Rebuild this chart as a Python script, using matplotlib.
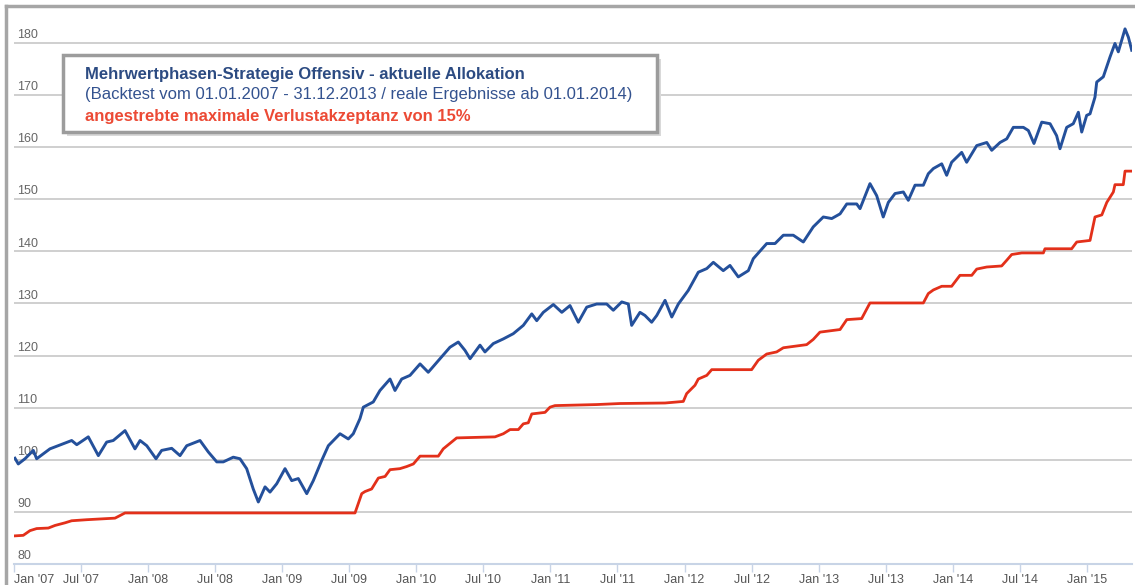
import matplotlib
matplotlib.use("Agg")
import matplotlib.pyplot as plt
from matplotlib.patches import Rectangle
from matplotlib.lines import Line2D

plt.rcParams['font.family'] = ['Liberation Sans', 'DejaVu Sans']

# Strategie (blau), Zeit in Dezimaljahren
blue_t = [2007.007, 2007.032, 2007.082, 2007.144, 2007.169, 2007.268, 2007.368, 2007.430,
          2007.468, 2007.554, 2007.629, 2007.691, 2007.740, 2007.828, 2007.902, 2007.940,
          2007.990, 2008.059, 2008.101, 2008.176, 2008.238, 2008.288, 2008.387, 2008.449,
          2008.512, 2008.561, 2008.635, 2008.685, 2008.735, 2008.784, 2008.822, 2008.872,
          2008.909, 2008.959, 2009.021, 2009.071, 2009.120, 2009.183, 2009.232, 2009.295,
          2009.344, 2009.431, 2009.493, 2009.530, 2009.580, 2009.605, 2009.679, 2009.729,
          2009.804, 2009.841, 2009.891, 2009.953, 2010.028, 2010.089, 2010.177, 2010.251,
          2010.313, 2010.363, 2010.401, 2010.475, 2010.512, 2010.574, 2010.649, 2010.723,
          2010.798, 2010.861, 2010.898, 2010.947, 2011.022, 2011.085, 2011.146, 2011.208,
          2011.271, 2011.345, 2011.420, 2011.469, 2011.532, 2011.581, 2011.606, 2011.668,
          2011.705, 2011.755, 2011.793, 2011.855, 2011.905, 2011.954, 2012.028, 2012.103,
          2012.166, 2012.215, 2012.289, 2012.339, 2012.401, 2012.476, 2012.513, 2012.613,
          2012.675, 2012.737, 2012.811, 2012.886, 2012.960, 2013.035, 2013.098, 2013.160,
          2013.210, 2013.284, 2013.309, 2013.383, 2013.433, 2013.482, 2013.520, 2013.570,
          2013.632, 2013.669, 2013.719, 2013.781, 2013.818, 2013.856, 2013.918, 2013.955,
          2013.992, 2014.067, 2014.104, 2014.179, 2014.254, 2014.291, 2014.353, 2014.403,
          2014.452, 2014.527, 2014.564, 2014.606, 2014.664, 2014.726, 2014.775, 2014.800,
          2014.850, 2014.899, 2014.937, 2014.962, 2014.999, 2015.024, 2015.061, 2015.074,
          2015.123, 2015.173, 2015.210, 2015.235, 2015.285, 2015.310, 2015.335]
blue_v = [100.3, 99.2, 100.2, 101.8, 100.2, 102.1, 103.1, 103.7,
          102.9, 104.4, 100.8, 103.4, 103.7, 105.6, 102.1, 103.7,
          102.7, 100.2, 101.8, 102.2, 100.8, 102.7, 103.7, 101.5,
          99.6, 99.6, 100.5, 100.2, 98.3, 94.4, 91.9, 94.8,
          93.8, 95.4, 98.3, 96.0, 96.4, 93.5, 96.0, 99.9,
          102.7, 105.0, 104.0, 105.0, 107.9, 110.1, 111.1, 113.3,
          115.5, 113.3, 115.5, 116.2, 118.4, 116.8, 119.4, 121.6,
          122.6, 121.0, 119.4, 122.0, 120.7, 122.3, 123.2, 124.2,
          125.8, 128.0, 126.7, 128.3, 129.8, 128.3, 129.6, 126.4,
          129.3, 129.9, 129.9, 128.7, 130.3, 129.9, 125.8, 128.3,
          127.7, 126.4, 127.7, 130.6, 127.4, 129.9, 132.5, 136.0,
          136.7, 137.9, 136.3, 137.3, 135.1, 136.3, 138.6, 141.5,
          141.5, 143.1, 143.1, 141.8, 144.7, 146.6, 146.3, 147.2,
          149.1, 149.1, 148.2, 153.0, 150.7, 146.6, 149.4, 151.1,
          151.4, 149.8, 152.7, 152.7, 154.9, 155.9, 156.8, 154.6,
          157.1, 159.0, 157.1, 160.3, 160.9, 159.4, 160.9, 161.6,
          163.8, 163.8, 163.2, 160.7, 164.8, 164.5, 162.2, 159.7,
          163.8, 164.5, 166.7, 162.9, 166.1, 166.4, 169.6, 172.5,
          173.5, 177.3, 179.9, 178.3, 182.7, 181.1, 178.6]

# Verlustschwelle (rot)
red_t = [2007.007, 2007.069, 2007.119, 2007.169, 2007.256, 2007.306, 2007.380, 2007.430,
         2007.542, 2007.753, 2007.828, 2009.543, 2009.593, 2009.617, 2009.667, 2009.717,
         2009.767, 2009.804, 2009.878, 2009.928, 2009.978, 2010.028, 2010.164, 2010.201,
         2010.239, 2010.301, 2010.587, 2010.649, 2010.699, 2010.761, 2010.798, 2010.835,
         2010.861, 2010.960, 2010.997, 2011.034, 2011.345, 2011.519, 2011.855, 2011.991,
         2012.016, 2012.078, 2012.103, 2012.166, 2012.203, 2012.501, 2012.550, 2012.613,
         2012.687, 2012.737, 2012.911, 2012.960, 2013.010, 2013.160, 2013.210, 2013.321,
         2013.383, 2013.781, 2013.818, 2013.856, 2013.918, 2013.992, 2014.054, 2014.142,
         2014.179, 2014.254, 2014.365, 2014.403, 2014.440, 2014.515, 2014.676, 2014.688,
         2014.887, 2014.925, 2015.024, 2015.061, 2015.112, 2015.149, 2015.198, 2015.210,
         2015.272, 2015.285, 2015.335]
red_v = [85.4, 85.5, 86.4, 86.8, 86.9, 87.4, 87.9, 88.3,
         88.5, 88.8, 89.8, 89.8, 93.5, 93.9, 94.4, 96.5,
         96.8, 98.1, 98.3, 98.7, 99.2, 100.7, 100.7, 102.1,
         102.9, 104.2, 104.4, 105.0, 105.8, 105.8, 106.9, 107.1,
         108.8, 109.1, 110.1, 110.4, 110.6, 110.8, 110.9, 111.2,
         112.7, 114.3, 115.5, 116.2, 117.3, 117.3, 119.1, 120.3,
         120.7, 121.5, 122.1, 123.1, 124.5, 125.0, 126.9, 127.1,
         130.1, 130.1, 131.9, 132.6, 133.3, 133.3, 135.4, 135.4,
         136.6, 137.0, 137.2, 138.3, 139.4, 139.7, 139.7, 140.5,
         140.5, 141.8, 142.1, 146.6, 147.0, 149.4, 151.4, 152.8,
         152.8, 155.4, 155.4]

y_ticks = [80, 90, 100, 110, 120, 130, 140, 150, 160, 170, 180]
x_ticks = [2007.0, 2007.5, 2008.0, 2008.5, 2009.0, 2009.5, 2010.0, 2010.5, 2011.0,
           2011.5, 2012.0, 2012.5, 2013.0, 2013.5, 2014.0, 2014.5, 2015.0]
x_labels = ["Jan '07", "Jul '07", "Jan '08", "Jul '08", "Jan '09", "Jul '09",
            "Jan '10", "Jul '10", "Jan '11", "Jul '11", "Jan '12", "Jul '12",
            "Jan '13", "Jul '13", "Jan '14", "Jul '14", "Jan '15"]

W, H = 1135, 585
fig = plt.figure(figsize=(W / 100, H / 100), dpi=100)
ax = fig.add_axes([14 / W, 21 / H, 1118 / W, 557 / H])
ax.set_xlim(2007.0, 2015.337)
ax.set_ylim(80, 186.9)

for v in y_ticks[1:]:
    ax.axhline(v, color='#cccccc', lw=1.3, zorder=1)
for v in y_ticks:
    ax.text(0.003, v + 0.35, str(v), transform=ax.get_yaxis_transform(),
            ha='left', va='bottom', fontsize=9, color='#666666')

ax.plot(blue_t, blue_v, color='#24509b', lw=2.1, zorder=4)
ax.plot(red_t, red_v, color='#e3301a', lw=2.0, zorder=3)

for side in ['top', 'right', 'left']:
    ax.spines[side].set_visible(False)
ax.spines['bottom'].set_color('#c8d4e6')
ax.spines['bottom'].set_linewidth(1.5)
ax.set_yticks([])
ax.set_xticks(x_ticks)
ax.set_xticklabels(x_labels)
ax.tick_params(axis='x', direction='out', length=6, width=1, color='#c8d4e6',
               pad=1, labelsize=9, labelcolor='#555555')
ax.get_xticklabels()[0].set_ha('left')

# grauer Rahmen links und oben
fig.add_artist(Line2D([6 / W, 6 / W], [0, 1 - 6 / H], transform=fig.transFigure,
                      color='#a6a6a6', lw=2.5))
fig.add_artist(Line2D([6 / W, 1], [1 - 6 / H, 1 - 6 / H], transform=fig.transFigure,
                      color='#a6a6a6', lw=2.5))

# Infobox mit Schatten
bx, by, bw, bh = 63, 55, 594, 77
fig.add_artist(Rectangle(((bx + 4) / W, 1 - (by + bh + 4) / H), bw / W, bh / H,
                         transform=fig.transFigure, facecolor='#d9d9d9',
                         edgecolor='none', zorder=5))
fig.add_artist(Rectangle((bx / W, 1 - (by + bh) / H), bw / W, bh / H,
                         transform=fig.transFigure, facecolor='white',
                         edgecolor='#9c9c9c', lw=2.5, zorder=6))
fig.text(85 / W, 1 - 74 / H, 'Mehrwertphasen-Strategie Offensiv - aktuelle Allokation',
         fontsize=12, fontweight='bold', color='#2c4b82', va='center', zorder=7)
fig.text(85 / W, 1 - 95 / H,
         '(Backtest vom 01.01.2007 - 31.12.2013 / reale Ergebnisse ab 01.01.2014)',
         fontsize=12, color='#33528f', va='center', zorder=7)
fig.text(85 / W, 1 - 116 / H, 'angestrebte maximale Verlustakzeptanz von 15%',
         fontsize=12, fontweight='bold', color='#ec4a35', va='center', zorder=7)

fig.savefig('out.png', dpi=100)
